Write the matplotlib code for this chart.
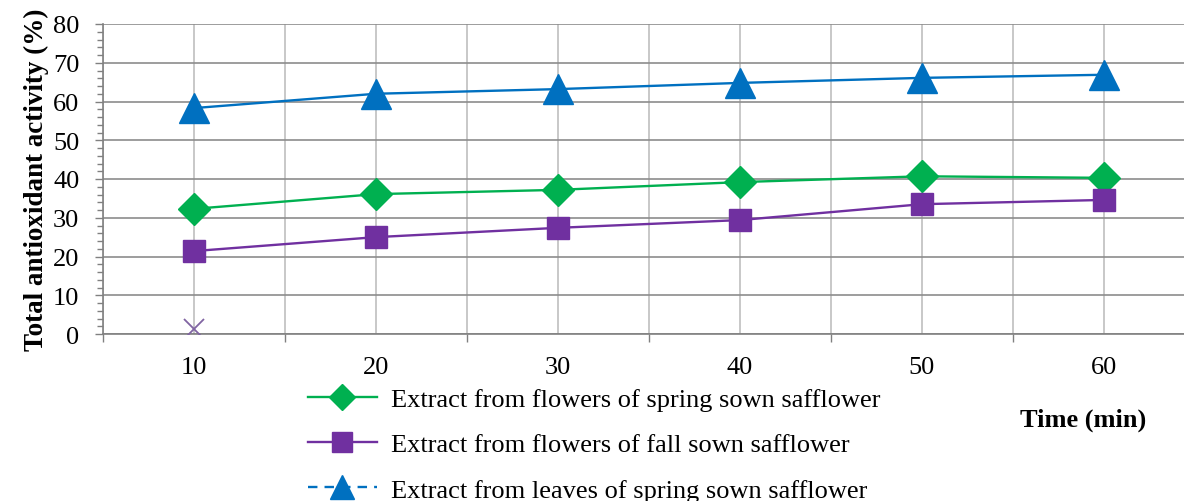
import numpy as np
import matplotlib.pyplot as plt
from matplotlib.lines import Line2D
from matplotlib.ticker import MultipleLocator, FixedLocator

plt.rcParams['font.family'] = ['Liberation Serif', 'DejaVu Serif']

# Extraction time (min) and total antioxidant activity (%)
times = [10, 20, 30, 40, 50, 60]
spring_flowers = [32.3, 36.1, 37.2, 39.2, 40.7, 40.3]
fall_flowers = [21.4, 25.0, 27.4, 29.4, 33.5, 34.6]
spring_leaves = [58.3, 62.0, 63.2, 64.8, 66.1, 66.9]
stray_point = 1.2

labels = [
    'Extract from flowers of spring sown safflower',
    'Extract from flowers of fall sown safflower',
    'Extract from leaves of spring sown safflower',
]

green = '#00B050'
purple = '#7030A0'
blue = '#0070C0'

fig = plt.figure(figsize=(11.84, 5.02), dpi=100)
ax = fig.add_axes([103 / 1184, 167 / 502, 1092 / 1184, 310 / 502])

x = np.arange(1, len(times) + 1)
ax.plot(x, spring_leaves, color=blue, lw=1.7, marker='^', ms=22,
        markeredgecolor=blue, zorder=3)
ax.plot(x, spring_flowers, color=green, lw=1.7, marker='D', ms=16.5,
        markeredgecolor=green, zorder=3)
ax.plot(x, fall_flowers, color=purple, lw=1.7, marker='s', ms=15.5,
        markeredgecolor=purple, zorder=3)
ax.plot([x[0]], [stray_point], linestyle='none', marker='x', ms=14,
        mew=1.3, color='#8064A2', zorder=3)

ax.set_xlim(0.5, len(times) + 0.5)
ax.set_ylim(0, 80)

ax.xaxis.set_major_locator(FixedLocator(x))
ax.xaxis.set_minor_locator(FixedLocator(np.arange(0.5, len(times) + 1, 1)))
ax.set_xticklabels([str(t) for t in times], fontsize=19)
ax.tick_params(axis='x', which='major', length=0, pad=16)
ax.tick_params(axis='x', which='minor', length=6, color='#808080', width=1)

ax.yaxis.set_major_locator(MultipleLocator(10))
ax.yaxis.set_minor_locator(MultipleLocator(2))
ax.tick_params(axis='y', which='major', length=6, color='#808080', width=1,
               labelsize=19, pad=11)
ax.tick_params(axis='y', which='minor', length=4, color='#808080', width=1)

ax.grid(axis='y', which='major', color='#8c8c8c', lw=1.2)
ax.grid(axis='x', which='both', color='#bfbfbf', lw=1.2)
ax.set_axisbelow(True)

for side in ['top', 'right']:
    ax.spines[side].set_visible(False)
for side in ['left', 'bottom']:
    ax.spines[side].set_color('#808080')
    ax.spines[side].set_linewidth(1.2)

ax.set_ylabel('Total antioxidant activity (%)', fontsize=19.5,
              fontweight='bold', labelpad=3)
fig.text(1083 / 1184, 1 - 420 / 502, 'Time (min)', fontsize=19,
         fontweight='bold', ha='center', va='center')

handles = [
    Line2D([], [], color=green, lw=1.7, marker='D', ms=13),
    Line2D([], [], color=purple, lw=1.7, marker='s', ms=14),
    Line2D([], [], color=blue, lw=1.7, ls=(0, (4, 3)), marker='^', ms=17),
]
fig.legend(handles, labels, loc='upper left',
           bbox_to_anchor=(300 / 1184, 1 - 381 / 502), frameon=False,
           fontsize=19, handlelength=2.6, labelspacing=0.82,
           handletextpad=0.55, borderaxespad=0, borderpad=0.3)

fig.savefig('out.png', dpi=100)
